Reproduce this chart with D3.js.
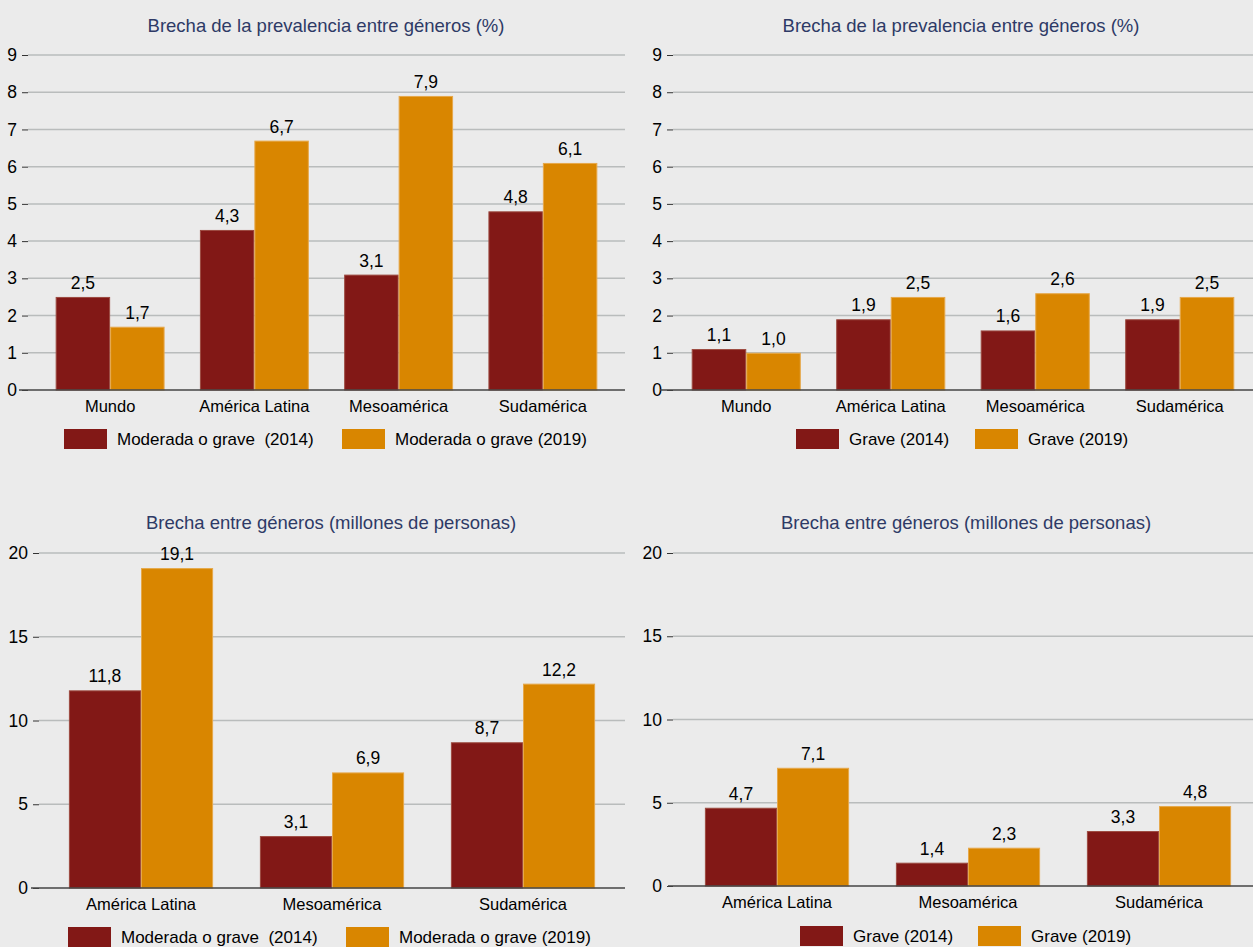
<!DOCTYPE html>
<html>
<head>
<meta charset="utf-8">
<script src="https://cdn.jsdelivr.net/npm/d3@7/dist/d3.min.js"></script>
<style>
body { margin: 0; background: #ebebeb; }
svg { font-family: "Liberation Sans", Arial, sans-serif; display: block; }
.title { fill: #2e3a66; font-size: 18.5px; }
.tick text { font-size: 17.5px; fill: #000; }
.lbl { font-size: 17.5px; fill: #000; }
.cat { font-size: 16.5px; fill: #000; }
.leg { font-size: 17px; fill: #000; white-space: pre; }
</style>
</head>
<body>
<script>
'use strict'
// data
const regions4 = ["Mundo", "América Latina", "Mesoamérica", "Sudamérica"];
const regions3 = ["América Latina", "Mesoamérica", "Sudamérica"];
const modGrave2014 = [2.5, 4.3, 3.1, 4.8];
const modGrave2019 = [1.7, 6.7, 7.9, 6.1];
const grave2014 = [1.1, 1.9, 1.6, 1.9];
const grave2019 = [1.0, 2.5, 2.6, 2.5];
const modGraveMill2014 = [11.8, 3.1, 8.7];
const modGraveMill2019 = [19.1, 6.9, 12.2];
const graveMill2014 = [4.7, 1.4, 3.3];
const graveMill2019 = [7.1, 2.3, 4.8];
const ticksPct = [0, 1, 2, 3, 4, 5, 6, 7, 8, 9];
const ticksMill = [0, 5, 10, 15, 20];

const colors = ["#821816", "#d98600"];
const strokes = ["#9c4a40", "#e6a84a"];
const w = 1253, h = 947;
const fmt = v => v.toFixed(1).replace(".", ",");

const svg = d3.select("body").append("svg")
	.attr("width", w)
	.attr("height", h);

function panel(o) {
	const g = svg.append("g");
	const x = d3.scaleBand()
		.domain(o.cats)
		.range(o.xr)
		.paddingInner(0.245)
		.paddingOuter(0.1225);
	const x1 = d3.scaleBand()
		.domain([0, 1])
		.range([0, x.bandwidth()]);
	const y = d3.scaleLinear()
		.domain([0, o.ticks[o.ticks.length - 1]])
		.range(o.yr);

	g.append("text")
		.attr("class", "title")
		.attr("x", o.titleX)
		.attr("y", o.titleY)
		.attr("text-anchor", "middle")
		.text(o.title);

	// gridlines
	g.selectAll(".grid")
		.data(o.ticks.slice(1))
		.enter()
		.append("line")
		.attr("x1", o.gx[0])
		.attr("x2", o.gx[1])
		.attr("y1", d => y(d))
		.attr("y2", d => y(d))
		.attr("stroke", "#b9bcbc")
		.attr("stroke-width", 1.5);

	const yAxis = d3.axisLeft(y).tickValues(o.ticks).tickSize(6).tickPadding(5).tickFormat(d3.format("d"));
	const ya = g.append("g")
		.attr("transform", "translate(" + o.gx[0] + ",0)")
		.call(yAxis);
	ya.select(".domain").remove();
	ya.attr("font-family", null).attr("font-size", null);
	ya.selectAll(".tick line").attr("stroke", "#333");

	// bars
	const series = [o.a, o.b];
	series.forEach((vals, s) => {
		g.selectAll(".bar" + s)
			.data(vals)
			.enter()
			.append("rect")
			.attr("x", (d, i) => x(o.cats[i]) + x1(s) + 0.5)
			.attr("y", d => y(d) + 0.5)
			.attr("width", x1.bandwidth() - 1)
			.attr("height", d => y(0) - y(d) - 0.5)
			.attr("fill", colors[s])
			.attr("stroke", strokes[s])
			.attr("stroke-width", 1);
		g.selectAll(".lab" + s)
			.data(vals)
			.enter()
			.append("text")
			.attr("class", "lbl")
			.attr("x", (d, i) => x(o.cats[i]) + x1(s) + x1.bandwidth() / 2)
			.attr("y", d => y(d) - 8)
			.attr("text-anchor", "middle")
			.text(fmt);
	});

	// zero line
	g.append("line")
		.attr("x1", o.zx)
		.attr("x2", o.gx[1])
		.attr("y1", y(0))
		.attr("y2", y(0))
		.attr("stroke", "#444")
		.attr("stroke-width", 1.5);

	// category labels
	g.selectAll(".cat")
		.data(o.cats)
		.enter()
		.append("text")
		.attr("class", "cat")
		.attr("x", d => x(d) + x.bandwidth() / 2)
		.attr("y", y(0) + 22)
		.attr("text-anchor", "middle")
		.text(d => d);

	// legend
	o.legend.forEach((l, i) => {
		g.append("rect")
			.attr("x", l.x)
			.attr("y", o.legY)
			.attr("width", 43)
			.attr("height", 20)
			.attr("fill", colors[i]);
		g.append("text")
			.attr("class", "leg")
			.attr("x", l.x + 53)
			.attr("y", o.legY + 16)
			.text(l.t);
	});
}

panel({
	cats: regions4, a: modGrave2014, b: modGrave2019, ticks: ticksPct,
	xr: [38, 615], yr: [390, 55], gx: [28, 625], zx: 19,
	title: "Brecha de la prevalencia entre géneros (%)", titleX: 326, titleY: 32,
	legY: 429, legend: [{x: 64, t: "Moderada o grave  (2014)"}, {x: 342, t: "Moderada o grave (2019)"}]
});
panel({
	cats: regions4, a: grave2014, b: grave2019, ticks: ticksPct,
	xr: [674, 1252], yr: [390, 55], gx: [673, 1253], zx: 660,
	title: "Brecha de la prevalencia entre géneros (%)", titleX: 961, titleY: 32,
	legY: 429, legend: [{x: 796, t: "Grave (2014)"}, {x: 975, t: "Grave (2019)"}]
});
panel({
	cats: regions3, a: modGraveMill2014, b: modGraveMill2019, ticks: ticksMill,
	xr: [45.5, 618.5], yr: [888, 553], gx: [39, 625], zx: 31,
	title: "Brecha entre géneros (millones de personas)", titleX: 331, titleY: 529,
	legY: 927, legend: [{x: 68, t: "Moderada o grave  (2014)"}, {x: 346, t: "Moderada o grave (2019)"}]
});
panel({
	cats: regions3, a: graveMill2014, b: graveMill2019, ticks: ticksMill,
	xr: [681.5, 1254.5], yr: [886, 553], gx: [673, 1253], zx: 668,
	title: "Brecha entre géneros (millones de personas)", titleX: 966, titleY: 529,
	legY: 926, legend: [{x: 800, t: "Grave (2014)"}, {x: 978, t: "Grave (2019)"}]
});
</script>
</body>
</html>
